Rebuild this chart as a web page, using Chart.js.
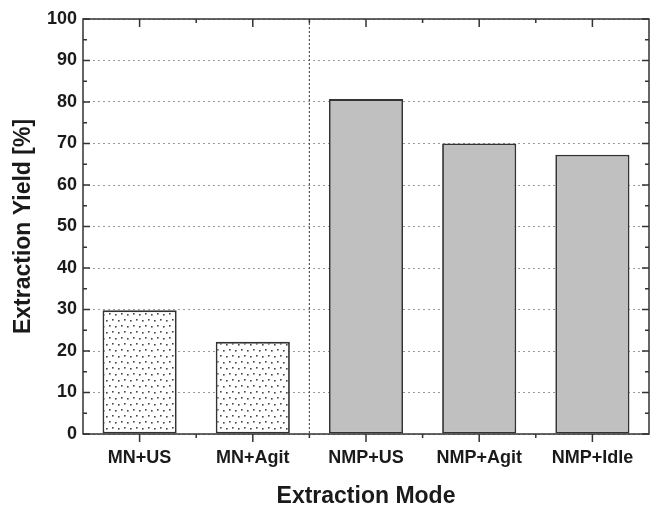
<!DOCTYPE html>
<html>
<head>
<meta charset="utf-8">
<script src="https://cdn.jsdelivr.net/npm/chart.js@4"></script>
<style>
  html, body { margin: 0; padding: 0; background: #fff; }
  #wrap { width: 658px; height: 510px; }
</style>
</head>
<body>
<div id="wrap"><canvas id="yieldChart" width="658" height="510"></canvas></div>
<script>
// Data
const categories = ['MN+US', 'MN+Agit', 'NMP+US', 'NMP+Agit', 'NMP+Idle'];
const yieldValues = [29.8, 22.2, 80.7, 70.0, 67.3];
const patterned = [true, true, false, false, false];
const yMin = 0, yMax = 100, yStep = 10;

// dotted hatch for the MN bars
function makeDotPattern(ctx) {
    const tile = document.createElement('canvas');
    tile.width = 12; tile.height = 12;
    const t = tile.getContext('2d');
    t.fillStyle = '#fff';
    t.fillRect(0, 0, 12, 12);
    t.fillStyle = '#444';
    [[1, 1], [7, 2], [4, 7], [10, 8]].forEach(p => t.fillRect(p[0], p[1], 1.6, 1.6));
    return ctx.createPattern(tile, 'repeat');
}

// frame, tick marks and the separator line
const framePlugin = {
    id: 'frame',
    beforeDatasetsDraw(chart) {
        const { ctx, chartArea: a, scales: { x } } = chart;
        const sep = (x.getPixelForValue(1) + x.getPixelForValue(2)) / 2;
        ctx.save();
        ctx.strokeStyle = '#555';
        ctx.lineWidth = 1.2;
        ctx.setLineDash([2, 2]);
        ctx.beginPath();
        ctx.moveTo(sep, a.top);
        ctx.lineTo(sep, a.bottom);
        ctx.stroke();
        ctx.restore();
    },
    afterDraw(chart) {
        const { ctx, chartArea: a, scales: { x, y } } = chart;
        ctx.save();
        ctx.strokeStyle = '#333';
        ctx.lineWidth = 1.5;
        ctx.strokeRect(a.left, a.top, a.right - a.left, a.bottom - a.top);
        ctx.beginPath();
        for (let v = yMin; v <= yMax; v += yStep / 2) {
            const py = y.getPixelForValue(v);
            const len = (v % yStep === 0) ? 7 : 4;
            ctx.moveTo(a.left, py); ctx.lineTo(a.left + len, py);
            ctx.moveTo(a.right, py); ctx.lineTo(a.right - len, py);
        }
        categories.forEach((c, i) => {
            const px = x.getPixelForValue(i);
            ctx.moveTo(px, a.bottom); ctx.lineTo(px, a.bottom + 8);
            ctx.moveTo(px, a.top); ctx.lineTo(px, a.top + 8);
            if (i < categories.length - 1) {
                const mx = (px + x.getPixelForValue(i + 1)) / 2;
                ctx.moveTo(mx, a.bottom); ctx.lineTo(mx, a.bottom + 4);
                ctx.moveTo(mx, a.top); ctx.lineTo(mx, a.top + 4);
            }
        });
        ctx.stroke();
        ctx.restore();
    }
};

const canvas = document.getElementById('yieldChart');
const dots = makeDotPattern(canvas.getContext('2d'));

new Chart(canvas, {
    type: 'bar',
    data: {
        labels: categories,
        datasets: [{
            data: yieldValues,
            backgroundColor: patterned.map(p => p ? dots : '#c0c0c0'),
            borderColor: '#333',
            borderWidth: 1.8,
            borderSkipped: false,
            barPercentage: 0.655,
            categoryPercentage: 1.0
        }]
    },
    options: {
        responsive: false,
        animation: false,
        events: [],
        layout: { padding: { top: 19, right: 9, left: 0, bottom: 0 } },
        plugins: { legend: { display: false }, tooltip: { enabled: false } },
        scales: {
            x: {
                offset: true,
                grid: { display: false, drawTicks: false },
                border: { display: false },
                ticks: {
                    padding: 13,
                    color: '#1a1a1a',
                    font: { family: 'Liberation Sans, Arial, sans-serif', size: 18, weight: 'bold' }
                },
                title: {
                    display: true,
                    text: 'Extraction Mode',
                    color: '#1a1a1a',
                    padding: { top: 14, bottom: 0 },
                    font: { family: 'Liberation Sans, Arial, sans-serif', size: 23, weight: 'bold' }
                },
                afterFit(scale) { scale.height = 76; }
            },
            y: {
                min: yMin,
                max: yMax,
                grid: {
                    color: '#9a9a9a',
                    lineWidth: 1,
                    drawTicks: false
                },
                border: { display: false, dash: [2, 3] },
                ticks: {
                    stepSize: yStep,
                    padding: 6,
                    color: '#1a1a1a',
                    font: { family: 'Liberation Sans, Arial, sans-serif', size: 18, weight: 'bold' }
                },
                title: {
                    display: true,
                    text: 'Extraction Yield [%]',
                    color: '#1a1a1a',
                    padding: { top: 10, bottom: 0 },
                    font: { family: 'Liberation Sans, Arial, sans-serif', size: 23, weight: 'bold' }
                },
                afterFit(scale) { scale.width = 83; }
            }
        }
    },
    plugins: [framePlugin]
});
</script>
</body>
</html>
